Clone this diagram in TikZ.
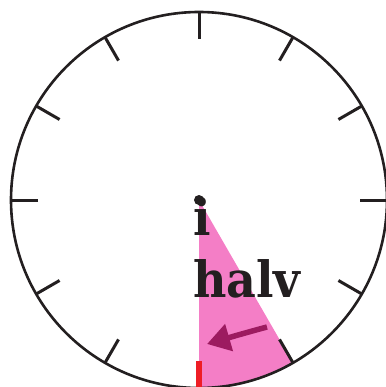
\documentclass[tikz,border=0pt]{standalone}
\usepackage{fontspec}
\setmainfont{DejaVu Serif}
\newfontfamily\slabfont[FakeStretch=0.92]{DejaVu Serif}
\usetikzlibrary{arrows.meta,calc}
\definecolor{sectorpink}{HTML}{F47EC6}
\definecolor{arrowplum}{HTML}{9C1B60}
\definecolor{tickred}{HTML}{EE1D25}
\definecolor{ink}{HTML}{231F20}
\begin{document}
\begin{tikzpicture}[x=1pt,y=-1pt,
  rim/.style={draw=ink,line width=2.6pt},
  hourtick/.style={draw=ink,line width=3pt},
  label/.style={font=\slabfont\bfseries\fontsize{50}{62}\selectfont,text=ink,inner sep=0pt,anchor=base west}]
\useasboundingbox (0,0) rectangle (385,387);
\coordinate (c) at (199,200);
\fill[sectorpink] (c) -- ++(90:188) arc[start angle=90,end angle=60,radius=188] -- cycle;
\draw[rim] (c) circle[radius=188];
\foreach \a in {0,30,...,330}{
  \draw[hourtick] ($(c)+(\a:161)$) -- ($(c)+(\a:188)$);
}
\draw[tickred,line width=6pt] ($(c)+(90:161)$) -- ($(c)+(90:188)$);
\fill[ink] (c) circle[radius=5];
\node[label] (i) at (193,235) {i};
\node[label] (halv) at (193,297) {halv};
\coordinate (atail) at (267,327);
\coordinate (ahead) at (207,344);
\draw[arrowplum,line width=5.5pt,-{Triangle[length=23pt,width=27pt]}] (atail) .. controls (252,331) and (238,335) .. (ahead);
\end{tikzpicture}
\end{document}
